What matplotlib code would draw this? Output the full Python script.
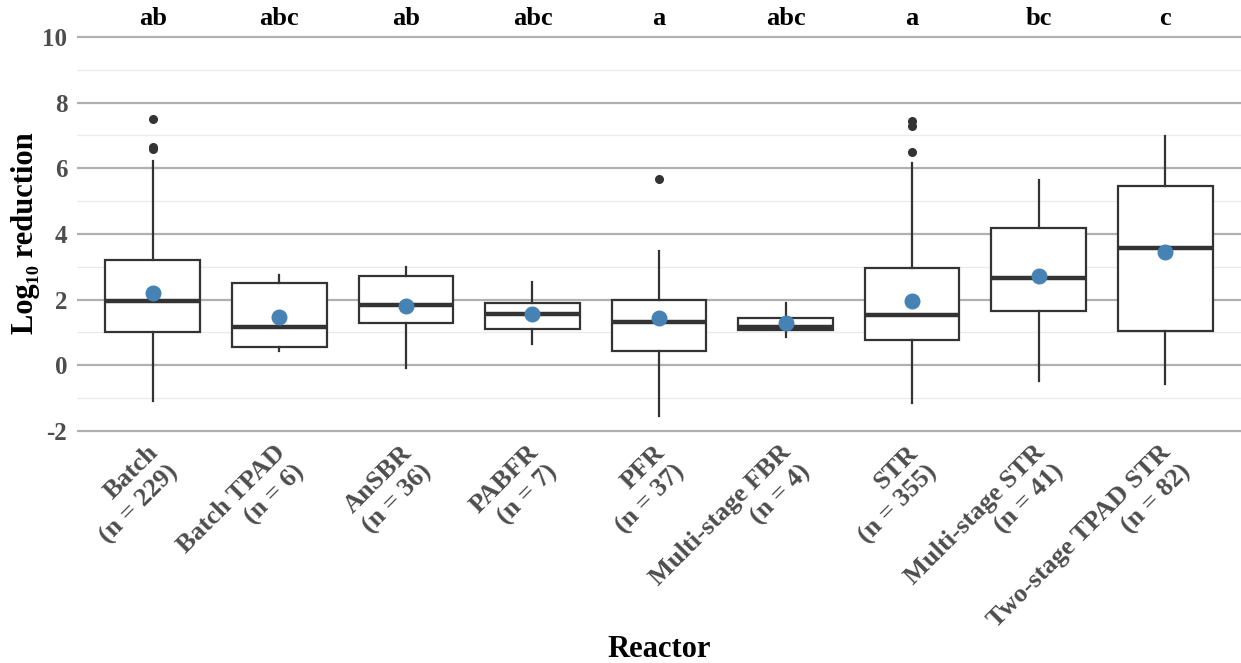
import matplotlib
matplotlib.use("Agg")
import matplotlib.pyplot as plt
import matplotlib.transforms as mtransforms
from matplotlib.ticker import MultipleLocator

plt.rcParams['font.family'] = ['Liberation Serif', 'DejaVu Serif']
plt.rcParams['font.weight'] = 'bold'

# values
reactors = ["Batch", "Batch TPAD", "AnSBR", "PABFR", "PFR",
            "Multi-stage FBR", "STR", "Multi-stage STR", "Two-stage TPAD STR"]
n_obs = [229, 6, 36, 7, 37, 4, 355, 41, 82]
whis_lo = [-1.08, 0.45, -0.08, 0.65, -1.54, 0.87, -1.16, -0.47, -0.58]
q1 = [1.00, 0.55, 1.28, 1.11, 0.44, 1.07, 0.76, 1.66, 1.04]
medians = [1.95, 1.18, 1.85, 1.55, 1.31, 1.18, 1.52, 2.65, 3.56]
q3 = [3.20, 2.50, 2.72, 1.91, 2.00, 1.43, 2.97, 4.17, 5.45]
whis_hi = [6.22, 2.76, 3.00, 2.53, 3.49, 1.89, 6.16, 5.64, 6.98]
means = [2.21, 1.48, 1.81, 1.55, 1.43, 1.30, 1.97, 2.73, 3.44]
outliers = [[7.49, 6.66, 6.59], [], [], [], [5.68], [], [7.45, 7.29, 6.49], [], []]
letters = ["ab", "abc", "ab", "abc", "a", "abc", "a", "bc", "c"]

fig = plt.figure(figsize=(12.41, 6.63), dpi=100)
ax = fig.add_axes([77 / 1241, 1 - 438 / 663, 1 - 77 / 1241, (438 - 28) / 663])

pos = list(range(1, len(reactors) + 1))
stats = []
for i in range(len(reactors)):
    stats.append(dict(whislo=whis_lo[i], q1=q1[i], med=medians[i], q3=q3[i],
                      whishi=whis_hi[i], fliers=outliers[i]))

edge = '#333333'
ax.bxp(stats, positions=pos, widths=0.75, showcaps=False, patch_artist=True,
       boxprops=dict(facecolor='white', edgecolor=edge, linewidth=1.6),
       whiskerprops=dict(color=edge, linewidth=1.6),
       medianprops=dict(color=edge, linewidth=3.2, solid_capstyle='butt'),
       flierprops=dict(marker='o', markerfacecolor=edge, markeredgecolor=edge,
                       markersize=5.5, linestyle='none'),
       zorder=3)
ax.plot(pos, means, 'o', color='#4682b4', markersize=10.5, zorder=5)

for p, lab in zip(pos, letters):
    ax.text(p, 10.55, lab, ha='center', va='center', fontsize=19,
            fontweight='bold', color='black', clip_on=False)

ax.set_xlim(0.4, len(reactors) + 0.6)
ax.set_ylim(-2.214, 10.274)
ax.yaxis.set_major_locator(MultipleLocator(2))
ax.yaxis.set_minor_locator(MultipleLocator(1))
ax.grid(which='major', axis='y', color='#b0b0b0', linewidth=1.6, zorder=0)
ax.grid(which='minor', axis='y', color='#ebebeb', linewidth=1.0, zorder=0)
ax.set_axisbelow(True)
for s in ax.spines.values():
    s.set_visible(False)

ax.tick_params(axis='both', which='both', length=0, labelcolor='#4d4d4d',
               labelsize=18)
ax.tick_params(axis='y', pad=7)
ax.set_yticks([-2, 0, 2, 4, 6, 8, 10])
ax.set_yticklabels(['-2', '0', '2', '4', '6', '8', '10'], fontweight='bold')
ax.set_xticks(pos)
ax.set_xticklabels([f"{r}\n(n = {k})" for r, k in zip(reactors, n_obs)],
                   rotation=45, ha='right', va='top', rotation_mode='anchor',
                   multialignment='right', fontweight='bold', linespacing=1.25,
                   fontsize=19)
ax.tick_params(axis='x', pad=2)
# nudge the rotated labels a little left, as in the reference
shift = mtransforms.ScaledTranslation(-6 / 100, 0, fig.dpi_scale_trans)
for lbl in ax.get_xticklabels():
    lbl.set_transform(lbl.get_transform() + shift)

ax.set_ylabel('Log₁₀ reduction', fontsize=22, fontweight='bold', color='black')
ax.yaxis.set_label_coords(-0.032, 0.5)
ax.set_xlabel('Reactor', fontsize=22, fontweight='bold', color='black')
ax.xaxis.set_label_coords(0.5, -0.48)

fig.savefig('out.png', dpi=100)
